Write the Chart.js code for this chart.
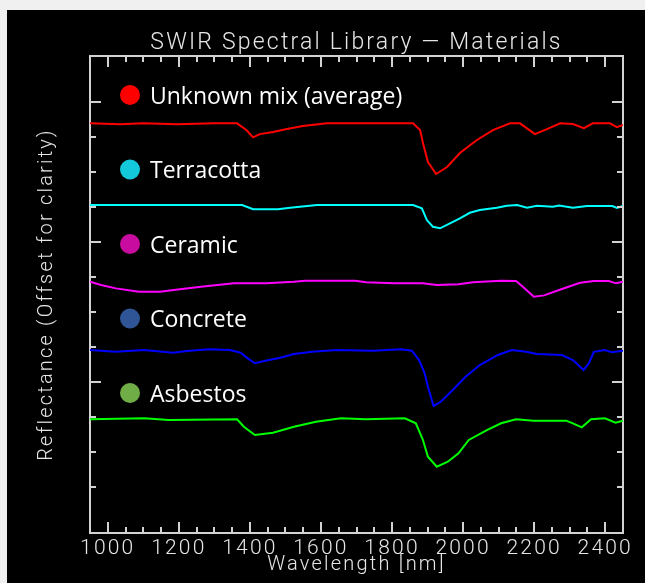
<!DOCTYPE html>
<html>
<head>
<meta charset="utf-8">
<title>SWIR Spectral Library - Materials</title>
<script src="https://cdn.jsdelivr.net/npm/chart.js@4.4.1/dist/chart.umd.min.js"></script>
<style>
html, body { margin: 0; padding: 0; background: #f0f0f0; }
#box { position: absolute; left: 7px; top: 10px; width: 638px; height: 573px; background: #000; }
</style>
</head>
<body>
<div id="box"><canvas id="c" width="638" height="573"></canvas></div>
<script>
// spectra (wavelength in nm, offset reflectance)
var names = ["Unknown mix (average)", "Terracotta", "Ceramic", "Concrete", "Asbestos"];

var mixWl  = [950, 1034, 1100, 1195, 1300, 1364, 1390, 1409, 1428, 1465, 1504, 1549, 1617, 1766, 1859, 1879, 1887, 1901, 1924, 1955, 1991, 2039, 2084, 2132, 2160, 2202, 2236, 2273, 2309, 2340, 2365, 2413, 2433, 2450];
var mixVal = [2.848, 2.841, 2.848, 2.841, 2.848, 2.848, 2.800, 2.748, 2.771, 2.786, 2.807, 2.829, 2.848, 2.848, 2.848, 2.800, 2.707, 2.571, 2.486, 2.536, 2.636, 2.729, 2.800, 2.848, 2.848, 2.771, 2.807, 2.848, 2.843, 2.814, 2.848, 2.848, 2.821, 2.836];

var terraWl  = [950, 1378, 1409, 1479, 1513, 1589, 1859, 1884, 1898, 1915, 1935, 1963, 1991, 2019, 2047, 2095, 2123, 2152, 2180, 2208, 2253, 2270, 2309, 2349, 2420, 2433, 2450];
var terraVal = [2.264, 2.264, 2.234, 2.234, 2.245, 2.264, 2.264, 2.241, 2.157, 2.109, 2.098, 2.134, 2.169, 2.209, 2.229, 2.245, 2.259, 2.264, 2.245, 2.259, 2.252, 2.261, 2.245, 2.257, 2.257, 2.243, 2.257];

var ceramWl  = [950, 981, 1023, 1088, 1147, 1203, 1262, 1355, 1445, 1524, 1555, 1696, 1727, 1805, 1887, 1926, 1988, 2028, 2107, 2149, 2168, 2199, 2228, 2270, 2329, 2368, 2410, 2430, 2450];
var ceramVal = [1.716, 1.693, 1.669, 1.645, 1.645, 1.662, 1.681, 1.705, 1.705, 1.716, 1.724, 1.724, 1.712, 1.705, 1.705, 1.693, 1.698, 1.712, 1.724, 1.721, 1.681, 1.609, 1.619, 1.657, 1.709, 1.721, 1.721, 1.705, 1.716];

var concWl  = [950, 1022, 1102, 1184, 1223, 1284, 1344, 1374, 1394, 1414, 1444, 1485, 1524, 1575, 1645, 1746, 1825, 1856, 1876, 1892, 1901, 1917, 1937, 1966, 2007, 2047, 2098, 2137, 2177, 2208, 2278, 2309, 2339, 2354, 2368, 2399, 2419, 2450];
var concVal = [1.229, 1.216, 1.229, 1.209, 1.221, 1.234, 1.229, 1.209, 1.169, 1.134, 1.152, 1.174, 1.200, 1.216, 1.229, 1.224, 1.234, 1.224, 1.157, 1.062, 0.966, 0.829, 0.859, 0.931, 1.038, 1.121, 1.193, 1.229, 1.216, 1.200, 1.193, 1.157, 1.086, 1.134, 1.216, 1.229, 1.212, 1.224];

var asbWl  = [950, 1102, 1172, 1364, 1383, 1414, 1465, 1524, 1586, 1656, 1727, 1836, 1867, 1887, 1901, 1926, 1957, 1987, 2016, 2067, 2107, 2149, 2198, 2290, 2309, 2334, 2360, 2399, 2429, 2450];
var asbVal = [0.734, 0.741, 0.729, 0.734, 0.681, 0.621, 0.638, 0.681, 0.716, 0.741, 0.734, 0.741, 0.705, 0.586, 0.466, 0.395, 0.431, 0.491, 0.586, 0.657, 0.705, 0.734, 0.724, 0.724, 0.705, 0.676, 0.734, 0.741, 0.709, 0.724];

var lineCols   = ["#ff0000", "#00ffff", "#ff00ff", "#0000ff", "#00ff00"];
var legendCols = ["#ff0000", "#14c8dc", "#c80ca0", "#2f5597", "#70ad47"];

var AXIS_COL = "#d2d2d2";
var TXT_COL = "#e6e6e6";
var AX_FONT = "Roboto";

function pairs(xs, ys) {
	return xs.map(function(x, i) { return { x: x, y: ys[i] }; });
}

function fixW(w) { return function(s) { s.width = w; }; }
function fixH(h) { return function(s) { s.height = h; }; }

// the plot font is a wide stroke font, spread the axis text a little
var spreadText = {
	id: "spreadText",
	beforeDraw: function(chart) { chart.ctx.letterSpacing = "2.2px"; },
	afterDraw: function(chart) { chart.ctx.letterSpacing = "0px"; }
};

// IDL style: ticks point inwards on all four sides, long ones on the majors
var inwardTicks = {
	id: "inwardTicks",
	afterDraw: function(chart) {
		var ctx = chart.ctx, a = chart.chartArea;
		var xs = chart.scales.x, ys = chart.scales.y;
		ctx.save();
		ctx.strokeStyle = AXIS_COL;
		ctx.lineWidth = 2;
		ctx.beginPath();
		xs.ticks.forEach(function(t) {
			var v = t.value;
			if (v % 50 !== 0 || v <= xs.min || v >= xs.max) return;
			var len = v % 200 === 0 ? 11 : 6;
			var px = Math.round(xs.getPixelForValue(v));
			ctx.moveTo(px, a.bottom); ctx.lineTo(px, a.bottom - len);
			ctx.moveTo(px, a.top);    ctx.lineTo(px, a.top + len);
		});
		ys.ticks.forEach(function(t) {
			var q = t.value * 4;
			if (Math.abs(q - Math.round(q)) > 1e-6) return;
			var len = Math.round(q) % 4 === 0 ? 11 : 6;
			var py = Math.round(ys.getPixelForValue(t.value));
			ctx.moveTo(a.left, py);  ctx.lineTo(a.left + len, py);
			ctx.moveTo(a.right, py); ctx.lineTo(a.right - len, py);
		});
		ctx.stroke();
		ctx.restore();
	}
};

// the pasted-on legend: coloured dots stacked over the curves
var dotLegend = {
	id: "dotLegend",
	afterDraw: function(chart) {
		var ctx = chart.ctx, a = chart.chartArea;
		ctx.save();
		ctx.letterSpacing = "0px";
		ctx.font = "23px 'Open Sans'";
		ctx.textBaseline = "alphabetic";
		for (var i = 0; i < names.length; i++) {
			var cy = a.top + 39 + i * 74.5;
			ctx.fillStyle = legendCols[i];
			ctx.beginPath();
			ctx.arc(a.left + 40, cy, 10, 0, Math.PI * 2);
			ctx.fill();
			ctx.fillStyle = "#ffffff";
			ctx.fillText(names[i], a.left + 60, cy + 8.5);
		}
		ctx.restore();
	}
};

var series = [
	[mixWl, mixVal], [terraWl, terraVal], [ceramWl, ceramVal], [concWl, concVal], [asbWl, asbVal]
];

var datasets = series.map(function(s, i) {
	return {
		label: names[i],
		data: pairs(s[0], s[1]),
		borderColor: lineCols[i],
		borderWidth: 2,
		pointRadius: 0,
		tension: 0,
		fill: false
	};
});

new Chart(document.getElementById("c").getContext("2d"), {
	type: "line",
	data: { datasets: datasets },
	options: {
		responsive: false,
		animation: false,
		layout: { padding: 0 },
		plugins: { legend: { display: false }, tooltip: { enabled: false }, title: { display: false } },
		scales: {
			x: {
				type: "linear", position: "bottom", min: 950, max: 2450,
				grid: { display: false, drawTicks: false },
				border: { display: true, color: AXIS_COL, width: 2 },
				ticks: {
					stepSize: 50, autoSkip: false, maxRotation: 0, padding: 3, color: TXT_COL,
					font: { family: AX_FONT, size: 21, weight: "300" },
					callback: function(v) { return v % 200 === 0 ? String(v) : ""; }
				},
				title: { display: true, text: "Wavelength [nm]", color: TXT_COL, padding: { top: 0, bottom: 6 },
					font: { family: AX_FONT, size: 20, weight: "300" } },
				afterFit: fixH(50)
			},
			xTop: {
				type: "linear", position: "top", min: 950, max: 2450,
				grid: { display: false, drawTicks: false },
				border: { display: true, color: AXIS_COL, width: 2 },
				ticks: { display: false },
				title: { display: true, text: "SWIR Spectral Library \u2014 Materials", color: TXT_COL,
					padding: { top: 19, bottom: 0 }, font: { family: AX_FONT, size: 23, weight: "300" } },
				afterFit: fixH(46)
			},
			y: {
				type: "linear", position: "left", min: -0.0786, max: 3.329,
				grid: { display: false, drawTicks: false },
				border: { display: true, color: AXIS_COL, width: 2 },
				ticks: { display: false, stepSize: 0.25 },
				title: { display: true, text: "Reflectance (Offset for clarity)", color: TXT_COL,
					padding: { top: 28, bottom: 0 }, font: { family: AX_FONT, size: 20, weight: "300" } },
				afterFit: fixW(83)
			},
			yRight: {
				type: "linear", position: "right", min: -0.0786, max: 3.329,
				grid: { display: false, drawTicks: false },
				border: { display: true, color: AXIS_COL, width: 2 },
				ticks: { display: false },
				afterFit: fixW(22)
			}
		}
	},
	plugins: [spreadText, inwardTicks, dotLegend]
});
</script>
</body>
</html>
